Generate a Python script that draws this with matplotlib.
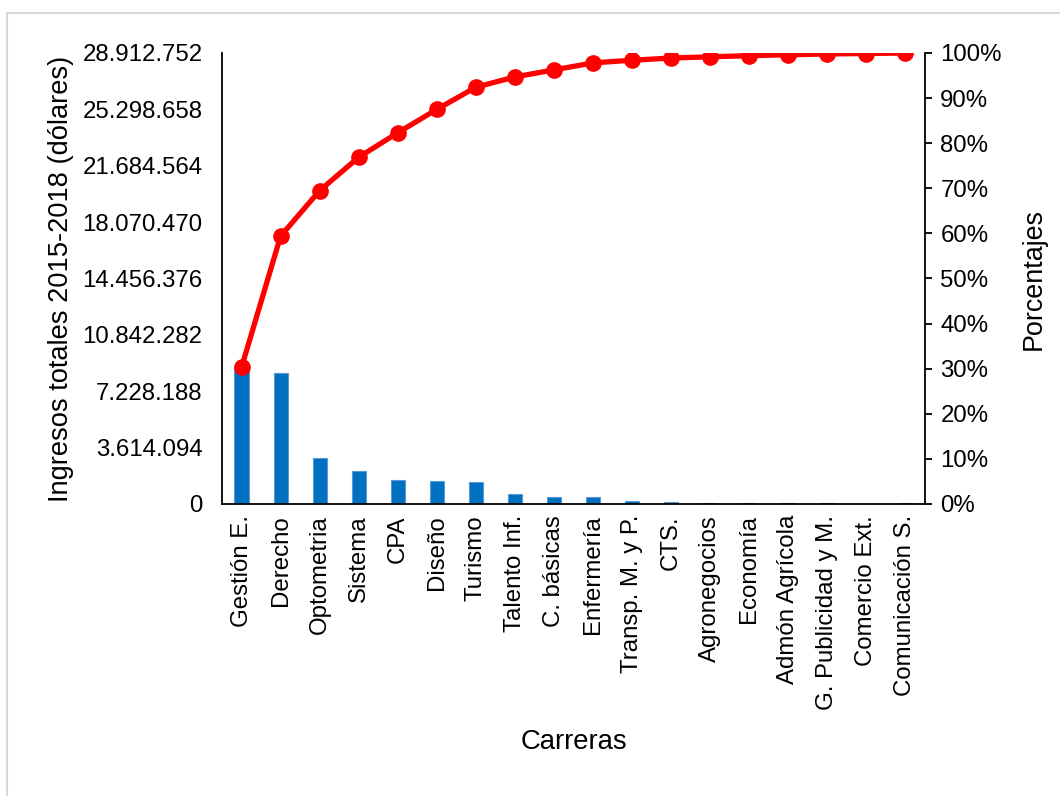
import matplotlib.pyplot as plt
import numpy as np
from matplotlib.patches import Rectangle
from matplotlib.ticker import FixedLocator, FuncFormatter, PercentFormatter

plt.rcParams['font.family'] = ['Liberation Sans', 'DejaVu Sans']

carreras = ['Gestión E.', 'Derecho', 'Optometria', 'Sistema', 'CPA', 'Diseño',
            'Turismo', 'Talento Inf.', 'C. básicas', 'Enfermería',
            'Transp. M. y P.', 'CTS.', 'Agronegocios', 'Economía',
            'Admón Agrícola', 'G. Publicidad y M.', 'Comercio Ext.',
            'Comunicación S.']
ingresos = [8760000, 8410000, 2920000, 2140000, 1570000, 1500000, 1420000,
            660000, 450000, 450000, 170000, 140000, 80000, 70000, 60000,
            50000, 30000, 32752]

total = sum(ingresos)
acumulado = np.cumsum(ingresos) / total * 100

fig = plt.figure(figsize=(10.6, 7.96), dpi=100)
# marco gris
fig.patches.append(Rectangle((7 / 1060, -0.01), 1.1, (796 - 13) / 796 + 0.01,
                             transform=fig.transFigure, fill=False,
                             edgecolor='#d9d9d9', linewidth=1.5))

ax = fig.add_axes([222 / 1060, (796 - 504) / 796, 703 / 1060, 451 / 796])
x = np.arange(len(carreras))
ax.bar(x, ingresos, width=0.36, color='#0070C0', edgecolor='#5b9bd5',
       linewidth=0.8, zorder=2)
ax.set_xlim(-0.5, len(carreras) - 0.5)
ax.set_ylim(0, total)
ax.yaxis.set_major_locator(FixedLocator([total * i / 8 for i in range(9)]))
ax.yaxis.set_major_formatter(FuncFormatter(lambda v, p: f'{round(v):,}'.replace(',', '.')))
ax.set_xticks(x)
ax.set_xticklabels(carreras, rotation=90, fontsize=17.3)
ax.tick_params(axis='x', length=0, pad=8)
ax.tick_params(axis='y', length=0, pad=14, labelsize=17.3)
ax.spines['top'].set_visible(False)
ax.spines['right'].set_visible(False)
ax.spines['left'].set_linewidth(1.3)
ax.spines['bottom'].set_linewidth(1.3)
ax.set_ylabel('Ingresos totales 2015-2018 (dólares)', fontsize=19.6, labelpad=6)
ax.set_xlabel('Carreras', fontsize=19.8, labelpad=14)

ax2 = ax.twinx()
ax2.plot(x, acumulado, color='#FF0000', linewidth=3.8, marker='o',
         markersize=11, zorder=3)
ax2.set_ylim(0, 100)
ax2.set_yticks(np.arange(0, 101, 10))
ax2.yaxis.set_major_formatter(PercentFormatter(decimals=0))
ax2.tick_params(axis='y', direction='out', length=5, width=1.3, pad=6, labelsize=17.3)
for s in ['top', 'left', 'bottom']:
    ax2.spines[s].set_visible(False)
ax2.spines['right'].set_linewidth(1.3)
ax2.set_ylabel('Porcentajes', fontsize=19.4, labelpad=14)

fig.savefig('out.png', dpi=100)
